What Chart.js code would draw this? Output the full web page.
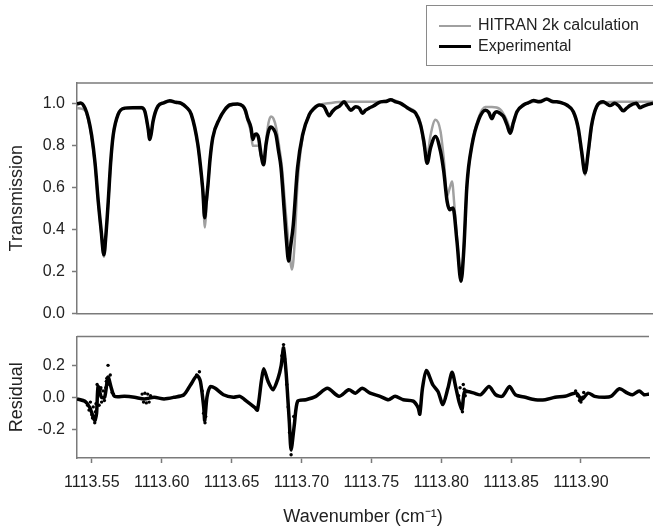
<!DOCTYPE html>
<html>
<head>
<meta charset="utf-8">
<script src="https://cdn.jsdelivr.net/npm/chart.js@4/dist/chart.umd.min.js"></script>
<style>
html,body{margin:0;padding:0;background:#fff;overflow:hidden;}
#wrap{position:relative;width:653px;height:530px;overflow:hidden;font-family:"Liberation Sans",Arial,sans-serif;}
canvas{position:absolute;left:0;}
#top{top:0;}
#bot{top:320px;}
#legend{position:absolute;left:426px;top:5px;width:240px;height:61px;border:1.5px solid #8a8a8a;box-sizing:border-box;font-size:16px;color:#222;}
#legend .row{position:absolute;left:0;height:20px;line-height:20px;white-space:nowrap;}
#legend .sw{display:inline-block;width:32px;vertical-align:middle;margin-left:12px;margin-right:7px;}
</style>
</head>
<body>
<div id="wrap">
  <canvas id="top" width="653" height="330"></canvas>
  <canvas id="bot" width="653" height="210"></canvas>
  <div id="legend"></div>
</div>
<script>
// ---------- data ----------
const seriesNames = ["HITRAN 2k calculation", "Experimental"];

const expWn = [1113.5394,1113.5420,1113.5451,1113.5475,1113.5498,1113.5522,1113.5545,1113.5565,1113.5585,1113.5600,1113.5616,1113.5633,1113.5651,1113.5686,1113.5734,1113.5790,1113.5852,1113.5876,1113.5899,1113.5911,1113.5922,1113.5934,1113.5970,1113.6010,1113.6053,1113.6095,1113.6135,1113.6170,1113.6206,1113.6253,1113.6275,1113.6289,1113.6301,1113.6312,1113.6324,1113.6340,1113.6359,1113.6407,1113.6442,1113.6478,1113.6536,1113.6572,1113.6590,1113.6607,1113.6631,1113.6643,1113.6655,1113.6667,1113.6685,1113.6702,1113.6720,1113.6737,1113.6755,1113.6773,1113.6790,1113.6808,1113.6825,1113.6844,1113.6867,1113.6882,1113.6898,1113.6912,1113.6931,1113.6961,1113.6997,1113.7044,1113.7080,1113.7115,1113.7150,1113.7186,1113.7210,1113.7233,1113.7260,1113.7292,1113.7315,1113.7339,1113.7375,1113.7400,1113.7422,1113.7445,1113.7469,1113.7500,1113.7552,1113.7590,1113.7623,1113.7660,1113.7694,1113.7740,1113.7770,1113.7800,1113.7835,1113.7859,1113.7882,1113.7906,1113.7941,1113.7977,1113.8000,1113.8024,1113.8043,1113.8055,1113.8066,1113.8094,1113.8123,1113.8142,1113.8165,1113.8201,1113.8248,1113.8296,1113.8320,1113.8342,1113.8360,1113.8378,1113.8400,1113.8425,1113.8450,1113.8473,1113.8495,1113.8520,1113.8567,1113.8600,1113.8638,1113.8680,1113.8732,1113.8770,1113.8803,1113.8840,1113.8874,1113.8921,1113.8956,1113.8980,1113.9004,1113.9027,1113.9051,1113.9086,1113.9133,1113.9160,1113.9181,1113.9216,1113.9245,1113.9275,1113.9300,1113.9322,1113.9369,1113.9393,1113.9420,1113.9454,1113.9487];
const expT = [1.00,1.005,0.98,0.93,0.85,0.72,0.535,0.40,0.28,0.38,0.535,0.72,0.85,0.95,0.98,0.982,0.982,0.965,0.884,0.83,0.86,0.916,0.99,1.005,1.015,1.008,1.003,0.985,0.95,0.805,0.68,0.58,0.457,0.53,0.61,0.74,0.84,0.93,0.97,0.995,1.00,0.99,0.97,0.93,0.885,0.83,0.85,0.856,0.836,0.757,0.71,0.805,0.87,0.89,0.88,0.852,0.78,0.694,0.487,0.35,0.25,0.32,0.424,0.694,0.852,0.948,0.98,0.995,0.987,0.944,0.965,0.98,0.99,1.01,0.99,0.97,0.987,0.98,0.956,0.97,0.98,0.99,1.01,1.012,1.02,1.01,1.003,0.982,0.97,0.956,0.90,0.82,0.717,0.79,0.845,0.773,0.678,0.535,0.495,0.50,0.503,0.344,0.154,0.297,0.614,0.805,0.924,0.97,0.96,0.93,0.955,0.963,0.955,0.94,0.90,0.86,0.91,0.963,0.995,1.005,1.016,1.01,1.024,1.012,1.01,1.005,0.995,0.963,0.884,0.773,0.67,0.773,0.90,0.987,1.01,1.0,0.992,1.003,0.99,0.967,0.98,0.992,1.003,0.982,0.99,0.998,1.003];

const calcWn = [1113.5394,1113.5451,1113.5475,1113.5498,1113.5522,1113.5545,1113.5565,1113.5585,1113.5600,1113.5616,1113.5633,1113.5651,1113.5686,1113.5734,1113.5852,1113.5876,1113.5899,1113.5911,1113.5922,1113.5934,1113.5970,1113.6053,1113.6135,1113.6170,1113.6206,1113.6253,1113.6275,1113.6289,1113.6303,1113.6315,1113.6324,1113.6340,1113.6359,1113.6407,1113.6442,1113.6478,1113.6536,1113.6572,1113.6607,1113.6631,1113.6643,1113.6660,1113.6685,1113.6702,1113.6720,1113.6737,1113.6755,1113.6773,1113.6790,1113.6808,1113.6830,1113.6850,1113.6875,1113.6900,1113.6922,1113.6940,1113.6961,1113.6997,1113.7044,1113.7115,1113.7200,1113.7300,1113.7422,1113.7552,1113.7623,1113.7694,1113.7740,1113.7800,1113.7835,1113.7859,1113.7882,1113.7906,1113.7941,1113.7977,1113.8000,1113.8024,1113.8043,1113.8059,1113.8075,1113.8094,1113.8123,1113.8142,1113.8165,1113.8201,1113.8248,1113.8296,1113.8342,1113.8400,1113.8450,1113.8473,1113.8495,1113.8520,1113.8567,1113.8638,1113.8732,1113.8803,1113.8874,1113.8921,1113.8956,1113.8980,1113.9004,1113.9027,1113.9051,1113.9086,1113.9133,1113.9250,1113.9369,1113.9487];
const calcT = [0.98,0.97,0.92,0.84,0.71,0.53,0.39,0.27,0.37,0.53,0.71,0.845,0.95,0.98,0.985,0.965,0.88,0.83,0.86,0.915,0.99,1.01,1.0,0.985,0.95,0.80,0.67,0.56,0.41,0.52,0.60,0.74,0.84,0.93,0.97,0.99,1.0,0.99,0.92,0.86,0.80,0.80,0.80,0.75,0.73,0.82,0.91,0.94,0.93,0.89,0.80,0.70,0.50,0.32,0.21,0.33,0.62,0.84,0.95,0.995,1.005,1.01,1.01,1.01,1.02,1.005,0.985,0.96,0.91,0.80,0.75,0.85,0.924,0.87,0.74,0.56,0.60,0.63,0.52,0.36,0.16,0.30,0.60,0.81,0.935,0.985,0.985,0.975,0.92,0.88,0.92,0.96,0.995,1.01,1.02,1.01,0.995,0.96,0.87,0.76,0.66,0.76,0.89,0.985,1.005,1.01,1.01,1.01];

const resWn = [1113.5394,1113.5451,1113.5486,1113.5521,1113.5534,1113.5545,1113.5569,1113.5592,1113.5616,1113.5640,1113.5663,1113.5734,1113.5805,1113.5876,1113.5946,1113.6017,1113.6088,1113.6159,1113.6206,1113.6253,1113.6277,1113.6301,1113.6308,1113.6324,1113.6348,1113.6383,1113.6442,1113.6513,1113.6560,1113.6607,1113.6667,1113.6685,1113.6713,1113.6730,1113.6761,1113.6796,1113.6832,1113.6855,1113.6872,1113.6890,1113.6902,1113.6914,1113.6926,1113.6950,1113.6973,1113.7032,1113.7103,1113.7186,1113.7269,1113.7339,1113.7386,1113.7434,1113.7492,1113.7563,1113.7623,1113.7670,1113.7729,1113.7800,1113.7835,1113.7847,1113.7866,1113.7894,1113.7941,1113.7977,1113.8012,1113.8048,1113.8078,1113.8106,1113.8130,1113.8149,1113.8165,1113.8189,1113.8236,1113.8283,1113.8342,1113.8390,1113.8437,1113.8489,1113.8531,1113.8602,1113.8673,1113.8744,1113.8815,1113.8886,1113.8968,1113.9004,1113.9051,1113.9098,1113.9169,1113.9216,1113.9275,1113.9334,1113.9369,1113.9417,1113.9452,1113.9487];
const resVal = [-0.01,-0.025,-0.065,-0.145,-0.10,0.067,0.0,0.0,0.127,0.056,0.006,0.006,0.0,-0.01,0.0,-0.01,0.0,0.016,0.077,0.137,0.10,-0.065,-0.145,0.0,0.067,0.056,0.016,0.0,0.006,-0.024,-0.065,-0.08,0.10,0.178,0.10,0.047,0.117,0.198,0.31,0.157,0.0,-0.165,-0.33,-0.165,-0.024,-0.015,0.006,0.056,0.006,0.047,0.026,0.056,0.026,0.006,-0.015,0.006,-0.015,-0.024,-0.065,-0.105,0.056,0.168,0.077,0.036,-0.045,0.056,0.157,0.056,-0.035,-0.075,0.03,0.036,0.026,0.016,0.067,0.016,0.006,0.067,0.016,0.0,-0.015,-0.015,0.0,0.006,0.026,-0.015,0.026,0.006,0.0,0.006,0.053,0.026,0.016,0.04,0.016,0.02];

// scattered residual points read from the noisy regions
const resNoiseWn = [1113.5470,1113.5480,1113.5490,1113.5500,1113.5505,1113.5510,1113.5515,1113.5521,1113.5526,1113.5530,1113.5538,1113.5545,1113.5552,1113.5560,1113.5565,1113.5570,1113.5580,1113.5590,1113.5600,1113.5604,1113.5608,1113.5612,1113.5616,1113.5620,1113.5625,1113.5632,1113.5645,1113.5655,1113.5860,1113.5870,1113.5880,1113.5890,1113.5900,1113.5910,1113.5920,1113.6250,1113.6270,1113.6290,1113.6300,1113.6310,1113.6315,1113.6860,1113.6872,1113.6880,1113.6895,1113.6905,1113.6915,1113.6926,1113.6935,1113.6945,1113.8125,1113.8135,1113.8145,1113.8152,1113.8158,1113.8165,1113.8172,1113.8180,1113.8962,1113.8975,1113.8990,1113.9000,1113.9012,1113.9020];
const resNoiseVal = [-0.05,-0.08,-0.03,-0.11,-0.13,-0.06,-0.12,-0.16,-0.09,-0.04,0.08,0.02,-0.05,0.05,0.06,-0.03,0.04,-0.02,0.06,0.10,0.12,0.08,0.20,0.11,0.09,0.14,0.03,0.02,0.02,-0.03,0.025,-0.035,0.02,-0.03,0.01,0.14,0.16,0.04,-0.10,-0.16,-0.12,0.26,0.33,0.24,0.08,-0.06,-0.22,-0.36,-0.28,-0.12,0.01,0.06,-0.06,-0.09,0.08,0.05,0.01,0.04,0.04,0.01,-0.02,-0.03,0.0,0.03];

const xTicks = [1113.55,1113.60,1113.65,1113.70,1113.75,1113.80,1113.85,1113.90];
const tTicks = [0.0,0.2,0.4,0.6,0.8,1.0];
const rTicks = [-0.2,0.0,0.2];

// ---------- helpers ----------
const pts = (xs, ys) => xs.map((x, i) => ({x: x, y: ys[i]}));
const FONT = '"Liberation Sans", Arial, sans-serif';
const TXT = '#222';
const AX = '#7a7a7a';
const xMin = 1113.5394, xMax = 1113.9487;

const boxPlugin = {
  id: 'box',
  afterDraw(chart) {
    const a = chart.chartArea, c = chart.ctx;
    c.save();
    c.strokeStyle = AX; c.lineWidth = 1.5;
    c.beginPath();
    c.moveTo(a.left, a.top); c.lineTo(a.right, a.top);
    c.stroke();
    c.restore();
  }
};

Chart.defaults.font.family = FONT;
Chart.defaults.color = TXT;

// ---------- top: transmission ----------
new Chart(document.getElementById('top'), {
  type: 'line',
  data: {
    datasets: [
      {label: seriesNames[1], data: pts(expWn, expT), borderColor: '#000', borderWidth: 3.5, pointRadius: 0, cubicInterpolationMode: 'monotone', order: 0},
      {label: seriesNames[0], data: pts(calcWn, calcT), borderColor: '#a0a0a0', borderWidth: 2.5, pointRadius: 0, cubicInterpolationMode: 'monotone', order: 1}
    ]
  },
  options: {
    responsive: false, animation: false, devicePixelRatio: 1,
    layout: {padding: {top: 83, right: 0, bottom: 16, left: 0}},
    plugins: {legend: {display: false}, tooltip: {enabled: false}},
    scales: {
      x: {
        type: 'linear', min: xMin, max: xMax,
        ticks: {display: false},
        grid: {drawOnChartArea: false, drawTicks: false},
        border: {display: true, color: AX, width: 1.5},
        afterFit(s) { s.height = 0; }
      },
      y: {
        min: 0, max: 1.1,
        afterBuildTicks(s) { s.ticks = tTicks.map(v => ({value: v})); },
        ticks: {font: {size: 16}, color: TXT, padding: 7, callback: v => Number(v).toFixed(1)},
        grid: {drawOnChartArea: false, drawTicks: true, tickLength: 5, color: AX, tickWidth: 1.5},
        border: {display: true, color: AX, width: 1.5},
        title: {display: true, text: 'Transmission', font: {size: 18}, color: TXT, padding: {top: 6, bottom: 0}},
        afterFit(s) { s.width = 77; }
      }
    }
  },
  plugins: [boxPlugin]
});

// ---------- bottom: residual ----------
new Chart(document.getElementById('bot'), {
  type: 'line',
  data: {
    datasets: [
      {label: 'Residual', data: pts(resWn, resVal), borderColor: '#000', borderWidth: 3.5, pointRadius: 0, tension: 0.25},
      {label: 'Residual scatter', data: pts(resNoiseWn, resNoiseVal), showLine: false, pointRadius: 1.7, pointBackgroundColor: '#000', pointBorderWidth: 0}
    ]
  },
  options: {
    responsive: false, animation: false, devicePixelRatio: 1,
    layout: {padding: {top: 13, right: 0, bottom: 0, left: 0}},
    plugins: {legend: {display: false}, tooltip: {enabled: false}},
    scales: {
      x: {
        type: 'linear', min: xMin, max: xMax,
        afterBuildTicks(s) { s.ticks = xTicks.map(v => ({value: v})); },
        ticks: {font: {size: 16}, color: TXT, padding: 10, maxRotation: 0, autoSkip: false, callback: v => Number(v).toFixed(2)},
        grid: {drawOnChartArea: false, drawTicks: true, tickLength: 5, color: AX, tickWidth: 1.5},
        border: {display: true, color: AX, width: 1.5},
        title: {display: true, text: ['Wavenumber (cm\u207B\u00B9)'], font: {size: 18}, color: TXT, padding: {top: 0, bottom: 2}},
        afterFit(s) { s.height = 72; }
      },
      y: {
        min: -0.38, max: 0.38,
        afterBuildTicks(s) { s.ticks = rTicks.map(v => ({value: v})); },
        ticks: {font: {size: 16}, color: TXT, padding: 7, callback: v => Number(v).toFixed(1)},
        grid: {drawOnChartArea: false, drawTicks: true, tickLength: 5, color: AX, tickWidth: 1.5},
        border: {display: true, color: AX, width: 1.5},
        title: {display: true, text: 'Residual', font: {size: 18}, color: TXT, padding: {top: 6, bottom: 0}},
        afterFit(s) { s.width = 77; }
      }
    }
  },
  plugins: [boxPlugin]
});

// ---------- legend ----------
const lg = document.getElementById('legend');
const legendItems = [{name: seriesNames[0], color: '#a0a0a0', w: 2}, {name: seriesNames[1], color: '#000', w: 3}];
legendItems.forEach((it, i) => {
  const row = document.createElement('div');
  row.className = 'row';
  row.style.top = (9 + i * 21) + 'px';
  const sw = document.createElement('span');
  sw.className = 'sw';
  sw.style.borderTop = it.w + 'px solid ' + it.color;
  row.appendChild(sw);
  row.appendChild(document.createTextNode(it.name));
  lg.appendChild(row);
});
</script>
</body>
</html>
